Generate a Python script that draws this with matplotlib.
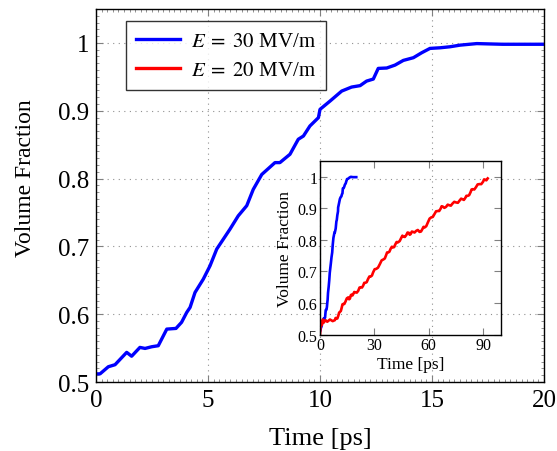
import matplotlib
matplotlib.use("Agg")
import matplotlib.pyplot as plt
from matplotlib.ticker import MultipleLocator

plt.rcParams['font.family'] = ['Liberation Serif', 'DejaVu Serif']
plt.rcParams['mathtext.fontset'] = 'stix'

# E = 30 MV/m (0-20 ps)
t30 = [0.0, 0.18, 0.55, 0.85, 1.37, 1.59, 1.96, 2.19, 2.49, 2.78, 3.16, 3.57, 3.82,
       4.05, 4.2, 4.42, 4.79, 5.09, 5.39, 5.98, 6.35, 6.73, 7.02, 7.40, 7.99, 8.21,
       8.66, 9.03, 9.26, 9.55, 9.93, 10.0, 10.45, 10.97, 11.41, 11.79, 12.08, 12.38,
       12.6, 12.98, 13.35, 13.72, 14.17, 14.54, 14.91, 15.36, 15.8, 16.25, 17.0,
       17.56, 18.15, 20.0]
v30 = [0.512, 0.512, 0.5225, 0.5255, 0.5437, 0.538, 0.551, 0.5495, 0.552, 0.5535,
       0.578, 0.579, 0.588, 0.6026, 0.61, 0.632, 0.6517, 0.6713, 0.696, 0.7253, 0.745,
       0.76, 0.784, 0.806, 0.8235, 0.8235, 0.8358, 0.8579, 0.8627, 0.8775, 0.8898,
       0.902, 0.9143, 0.929, 0.9349, 0.937, 0.9437, 0.9467, 0.9624, 0.963, 0.9673,
       0.9742, 0.9782, 0.9855, 0.9919, 0.9928, 0.9943, 0.9967, 0.999, 0.9985, 0.998,
       0.998]

# E = 20 MV/m (0-92.5 ps), noisy trace
t20 = [0, 0.5, 1.0, 1.5, 2.0, 3, 4, 5.5, 7, 8.2, 8.6, 9, 9.55, 10.1, 10.55, 11, 11.5,
       12, 12.4, 12.8, 13.4, 14, 14.8, 15.6, 16.05, 16.5, 17.0, 17.5, 17.9, 18.3,
       18.9, 19.5, 20.3, 21.1, 21.8, 22.5, 23.15, 23.8, 24.4, 25, 25.75, 26.5, 27.25,
       28, 28.65, 29.3, 30.15, 31, 32, 33.0, 34, 35, 35.75, 36.5, 37, 37.5, 38.25, 39,
       39.65, 40.3, 40.9, 41.5, 42.25, 43.0, 43.95, 44.9, 45.45, 46, 46.8, 47.6, 48.3,
       49, 49.5, 50, 50.65, 51.3, 52.15, 53, 53.95, 54.9, 55.7, 56.5, 57.1, 57.7,
       58.6, 59.5, 60.45, 61.4, 62.2, 63, 64, 65.0, 65.75, 66.5, 67.1, 67.7, 68.6,
       69.5, 70.45, 71.4, 72.2, 73, 74.05, 75.1, 76.05, 77, 77.85, 78.7, 79.35, 80,
       80.75, 81.5, 82.25, 83, 83.6, 84.2, 85.1, 86, 86.95, 87.9, 88.95, 90, 90.5,
       91, 91.75, 92.5]
v20 = [0.500, 0.540, 0.530, 0.548, 0.538, 0.546, 0.541, 0.548, 0.543, 0.546, 0.553,
       0.552, 0.551, 0.560, 0.570, 0.572, 0.575, 0.586, 0.596, 0.597, 0.597, 0.604,
       0.615, 0.618, 0.612, 0.614, 0.625, 0.627, 0.624, 0.628, 0.635, 0.634, 0.633,
       0.639, 0.649, 0.650, 0.649, 0.655, 0.664, 0.664, 0.666, 0.676, 0.684, 0.684,
       0.687, 0.697, 0.707, 0.708, 0.712, 0.723, 0.735, 0.738, 0.741, 0.752, 0.760,
       0.760, 0.762, 0.772, 0.778, 0.776, 0.777, 0.785, 0.793, 0.792, 0.796, 0.807,
       0.813, 0.810, 0.809, 0.815, 0.823, 0.822, 0.816, 0.818, 0.826, 0.825, 0.823,
       0.828, 0.831, 0.825, 0.826, 0.834, 0.841, 0.839, 0.843, 0.855, 0.867, 0.871,
       0.872, 0.880, 0.890, 0.891, 0.891, 0.898, 0.906, 0.905, 0.901, 0.904, 0.911,
       0.909, 0.908, 0.914, 0.920, 0.918, 0.917, 0.924, 0.930, 0.928, 0.926, 0.931,
       0.939, 0.939, 0.941, 0.950, 0.959, 0.960, 0.959, 0.966, 0.975, 0.976, 0.976,
       0.984, 0.991, 0.990, 0.988, 0.994]

main_xticks = [0, 5, 10, 15, 20]
main_yticks = [0.5, 0.6, 0.7, 0.8, 0.9, 1.0]
main_yticklabels = ['0.5', '0.6', '0.7', '0.8', '0.9', '1']
inset_xticks = [0, 30, 60, 90]
inset_yticks = [0.5, 0.6, 0.7, 0.8, 0.9, 1.0]
inset_yticklabels = ['0.5', '0.6', '0.7', '0.8', '0.9', '1']

labels = [r'$E\;=\;30$ MV/m', r'$E\;=\;20$ MV/m']
BLUE = '#0000ff'
RED = '#ff0000'

fig = plt.figure(figsize=(5.57, 4.52), dpi=100)
ax = fig.add_axes([96/557, 1-383/452, 448/557, 373/452])

ax.plot(t30, v30, color=BLUE, lw=2.4, label=labels[0])
ax.plot([], [], color=RED, lw=2.4, label=labels[1])
ax.set_xlim(0, 20)
ax.set_ylim(0.5, 1.05)
ax.set_xticks(main_xticks)
ax.set_yticks(main_yticks)
ax.set_yticklabels(main_yticklabels)
ax.xaxis.set_minor_locator(MultipleLocator(0.25))
ax.yaxis.set_minor_locator(MultipleLocator(0.01))
ax.tick_params(which='major', direction='in', length=5, width=0.8, color='#808080',
               top=True, right=True, labelsize=18, pad=5)
ax.tick_params(which='minor', direction='in', length=2, width=0.6, color='#808080',
               top=True, right=True)
ax.grid(True, which='major', linestyle=(0, (1, 4)), color='#909090', lw=0.8)
ax.set_axisbelow(True)
for s in ax.spines.values():
    s.set_linewidth(1.0)
ax.set_xlabel('Time [ps]', fontsize=19)
ax.set_ylabel('Volume Fraction', fontsize=17)
ax.xaxis.set_label_coords(0.5, -0.12)
ax.yaxis.set_label_coords(-0.135, 0.55)

leg = ax.legend(loc='upper left', bbox_to_anchor=(0.067, 0.968), borderaxespad=0,
                fontsize=15, frameon=True, fancybox=False, edgecolor='black',
                handlelength=2.1, handletextpad=0.5, borderpad=0.5, labelspacing=0.45)
leg.get_frame().set_linewidth(1.0)

# inset
ins = fig.add_axes([320/557, 1-335.7/452, 181.3/557, 174/452])
ins.patch.set_alpha(0.0)
ins.plot(t30, v30, color=BLUE, lw=1.9)
ins.plot(t20, v20, color=RED, lw=1.9)
ins.set_xlim(0, 100)
ins.set_ylim(0.5, 1.05)
ins.set_xticks(inset_xticks)
ins.set_yticks(inset_yticks)
ins.set_yticklabels(inset_yticklabels)
ins.tick_params(which='major', direction='in', length=5, width=0.8, color='#808080',
                top=True, right=True, labelsize=11.5, pad=2)
ins.set_xlabel('Time [ps]', fontsize=12.5, labelpad=2)
ins.set_ylabel('Volume Fraction', fontsize=12.5, labelpad=3)
for s in ins.spines.values():
    s.set_linewidth(1.0)

fig.savefig('out.png', dpi=100)
